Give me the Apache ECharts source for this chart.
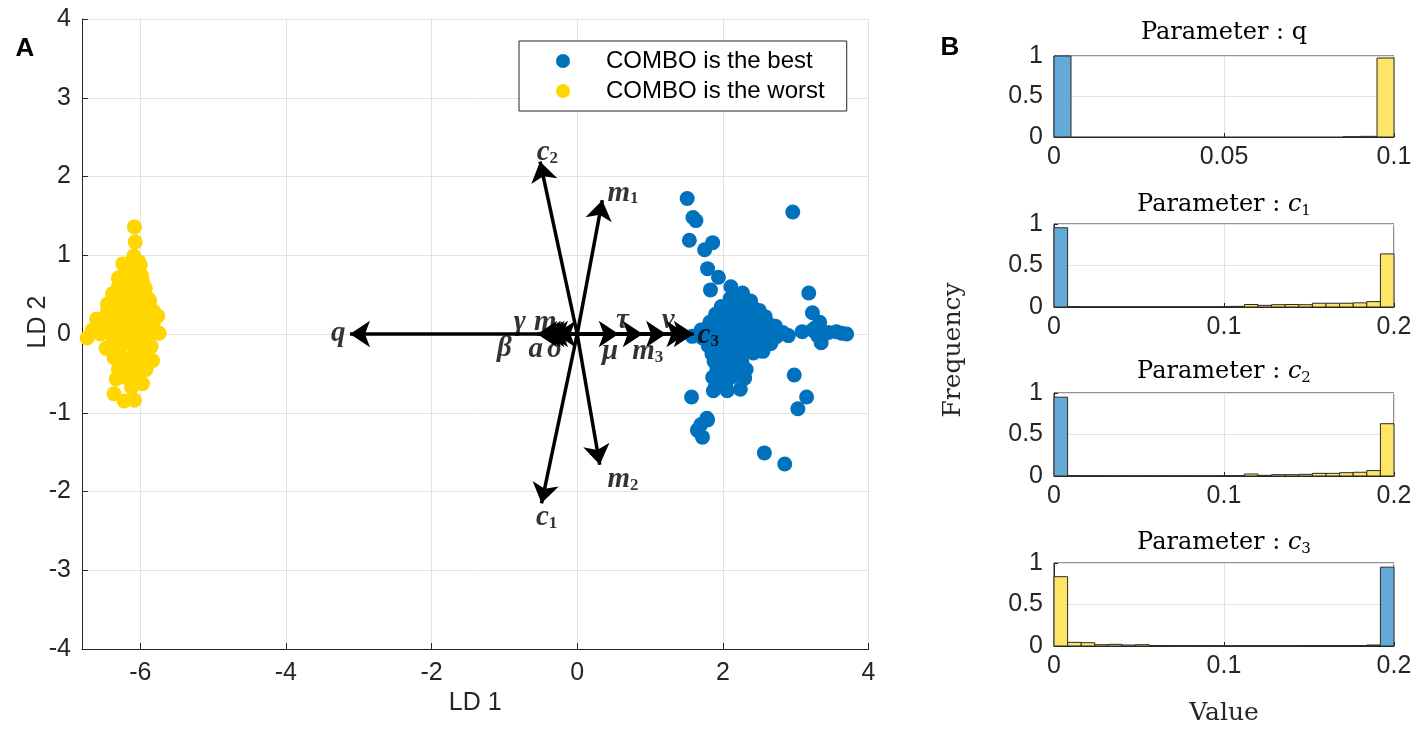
<!DOCTYPE html>
<html><head><meta charset="utf-8">
<script src="https://cdn.jsdelivr.net/npm/echarts@6/dist/echarts.min.js"></script>
<style>html,body{margin:0;padding:0;background:#fff}#c{width:1428px;height:730px}</style>
</head><body><div id="c"></div>
<script>
// ---------- Panel A data ----------
const bestPoints = [
  [1.51,1.72],[1.59,1.48],[1.63,1.44],[1.54,1.19],[1.75,1.07],[1.86,1.16],[2.96,1.55],
  [1.79,0.83],[1.94,0.72],[1.83,0.56],[2.11,0.60],[2.27,0.52],[3.18,0.52],[3.23,0.27],
  [3.33,0.15],[3.09,0.03],[3.35,-0.11],[3.56,0.03],[3.70,0.00],[3.23,0.05],[3.30,-0.02],
  [3.45,0.02],[3.63,0.01],[3.27,0.08],[2.98,-0.52],[3.15,-0.80],[3.03,-0.95],[2.57,-1.51],
  [2.85,-1.65],[1.57,-0.80],[1.78,-1.07],[1.65,-1.22],[1.72,-1.31],[1.79,-1.09],[1.70,-1.15],
  [2.10,0.45],[2.25,0.44],[2.38,0.42],
  [1.98,0.35],[2.12,0.36],[2.28,0.34],[2.42,0.33],[2.50,0.30],
  [1.90,0.25],[2.02,0.26],[2.18,0.24],[2.32,0.25],[2.46,0.23],[2.58,0.22],
  [1.82,0.15],[1.95,0.16],[2.08,0.14],[2.22,0.15],[2.36,0.13],[2.50,0.15],[2.64,0.12],[2.72,0.10],
  [1.70,0.05],[1.85,0.06],[1.98,0.04],[2.12,0.05],[2.26,0.06],[2.40,0.04],[2.55,0.05],[2.70,0.03],[2.82,0.02],
  [1.58,-0.03],[1.72,-0.05],[1.88,-0.06],[2.02,-0.04],[2.16,-0.05],[2.30,-0.06],[2.44,-0.04],[2.58,-0.05],[2.74,-0.03],[2.90,-0.02],
  [1.80,-0.15],[1.95,-0.16],[2.10,-0.14],[2.24,-0.15],[2.38,-0.16],[2.52,-0.14],[2.66,-0.12],
  [1.85,-0.25],[1.98,-0.26],[2.12,-0.24],[2.28,-0.25],[2.42,-0.24],[2.55,-0.22],
  [1.88,-0.35],[2.00,-0.36],[2.14,-0.34],[2.26,-0.35],
  [1.92,-0.45],[2.06,-0.46],[2.20,-0.44],[2.32,-0.45],
  [1.86,-0.55],[2.00,-0.56],[2.14,-0.54],[2.30,-0.56],
  [1.90,-0.65],[2.04,-0.64],
  [1.87,-0.72],[2.06,-0.72],[2.24,-0.70]
];
const worstPoints = [
  [-6.08,1.36],[-6.07,1.17],[-6.09,0.99],[-6.24,0.89],[-6.30,0.71],[-5.97,0.67],[-6.38,0.51],
  [-5.87,0.42],[-6.45,0.38],[-5.76,0.23],[-6.60,0.19],[-6.66,0.05],[-5.74,0.01],[-6.73,-0.05],
  [-5.83,-0.34],[-6.47,-0.18],[-6.33,-0.57],[-5.97,-0.63],[-6.36,-0.76],[-6.22,-0.85],
  [-6.08,-0.84],[-6.12,-0.68],[-6.00,0.88],
  [-6.15,0.90],[-6.02,0.92],
  [-6.22,0.75],[-6.08,0.76],[-5.98,0.74],
  [-6.30,0.60],[-6.18,0.61],[-6.05,0.59],[-5.93,0.58],
  [-6.38,0.45],[-6.25,0.46],[-6.12,0.44],[-6.00,0.45],[-5.90,0.46],
  [-6.45,0.30],[-6.32,0.31],[-6.18,0.29],[-6.05,0.30],[-5.92,0.31],[-5.82,0.29],
  [-6.50,0.15],[-6.36,0.16],[-6.22,0.14],[-6.08,0.15],[-5.95,0.16],[-5.82,0.14],
  [-6.55,0.00],[-6.42,0.01],[-6.28,-0.01],[-6.14,0.00],[-6.00,0.01],[-5.86,-0.01],
  [-6.40,-0.15],[-6.27,-0.16],[-6.12,-0.14],[-5.98,-0.15],[-5.85,-0.16],
  [-6.36,-0.30],[-6.22,-0.31],[-6.08,-0.29],[-5.95,-0.30],
  [-6.30,-0.45],[-6.15,-0.46],[-6.02,-0.44],[-5.92,-0.45],
  [-6.20,-0.55],[-6.05,-0.56]
];
const seriesNames = ['COMBO is the best', 'COMBO is the worst'];
const arrowNames = ['q','c1','c2','c3','m0','m1','m2','m3','β','a','σ','γ','μ','τ','ν'];
const arrowX = [-3.12,-0.49,-0.51,1.60,-0.45,0.345,0.31,1.22,-0.55,-0.50,-0.30,-0.40,0.57,0.90,1.50];
const arrowY = [0,-2.15,2.19,0,0,1.70,-1.66,0,0,0,0,0,0,0,0];
const labelX = [-3.28,-0.42,-0.41,1.80,-0.38,0.63,0.63,0.97,-1.00,-0.57,-0.31,-0.79,0.45,0.62,1.25];
const labelY = [0,-2.33,2.30,-0.02,0.14,1.79,-1.85,-0.22,-0.18,-0.20,-0.20,0.14,-0.22,0.17,0.17];
const xTickLabelsA = [-6,-4,-2,0,2,4];
const yTickLabelsA = [-4,-3,-2,-1,0,1,2,3,4];

// ---------- Panel B data ----------
const histParams = ['q','c1','c2','c3'];
const histBinWidth = [0.005, 0.008, 0.008, 0.008];
const histMax = [0.1, 0.2, 0.2, 0.2];
const histTick = [0.05, 0.1, 0.1, 0.1];
const qBest  = [1.0,0,0,0,0,0,0,0,0,0,0,0,0,0,0,0,0,0,0,0];
const qWorst = [0,0,0,0,0,0,0,0,0,0,0,0,0,0,0,0,0,0.003,0.008,0.975];
const c1Best  = [0.955,0.004,0.002,0.001,0.001,0.001,0.001,0.001,0.001,0.001,0.001,0.001,0,0,0,0,0,0,0,0,0,0,0,0,0];
const c1Worst = [0,0,0,0,0,0,0,0,0,0,0,0,0.004,0.008,0.030,0.020,0.028,0.030,0.028,0.045,0.045,0.045,0.050,0.065,0.640];
const c2Best  = [0.950,0.004,0.002,0.002,0.001,0.001,0.001,0.001,0.001,0.001,0.001,0.001,0,0,0,0,0,0,0,0,0,0,0,0,0];
const c2Worst = [0,0,0,0,0,0,0,0,0,0,0,0,0.004,0.004,0.024,0.008,0.016,0.016,0.020,0.032,0.032,0.040,0.045,0.065,0.630];
const c3Best  = [0,0,0,0,0,0,0,0,0,0,0,0,0,0,0,0,0,0,0.002,0.003,0.002,0.003,0.005,0.012,0.950];
const c3Worst = [0.835,0.044,0.040,0.016,0.020,0.012,0.016,0.006,0.004,0.004,0.003,0.003,0.002,0.002,0.002,0.002,0.002,0.002,0.001,0.001,0.001,0.001,0.001,0.001,0];
const histBest  = [qBest, c1Best, c2Best, c3Best];
const histWorst = [qWorst, c1Worst, c2Worst, c3Worst];
const histYTicks = [0, 0.5, 1];

// ---------- styling ----------
const BLUE = '#0072BD', YELLOW = '#FFD600';
const HBLUE = '#64AAD7', HYELLOW = '#FFE566';
const AX = '#262626', GRID = '#e2e2e2';
const SANS = '"Liberation Sans", Arial, sans-serif';
const SERIF = '"DejaVu Serif", serif';
const MSERIF = '"Liberation Serif", serif';

const histTop = [56, 224, 393, 563];
const histH = [81, 83, 83, 83];

function arrowLabel(n) {
  const m = n.match(/^([a-z])(\d)$/);
  if (m) return '{m|' + m[1] + '}{s|' + m[2] + '}';
  return '{m|' + n + '}';
}
function titleText(p) {
  const m = p.match(/^([a-z])(\d)$/);
  if (m) return '{t|Parameter : }{i|' + m[1] + '}{s|' + m[2] + '}';
  return '{t|Parameter : ' + p + '}';
}

const grids = [{left: 82, top: 19, width: 786.5, height: 630}];
const xAxes = [{
  gridIndex: 0, type: 'value', min: -6.8, max: 4, splitNumber: 5,
  name: 'LD 1', nameLocation: 'middle', nameGap: 33,
  nameTextStyle: {fontFamily: SANS, fontSize: 25, color: AX},
  axisLine: {show: true, onZero: false, lineStyle: {color: AX, width: 1}},
  axisTick: {show: true, inside: true, length: 6, lineStyle: {color: AX}},
  axisLabel: {showMinLabel: false, fontFamily: SANS, fontSize: 25, color: AX, margin: 12,
    formatter: v => xTickLabelsA.indexOf(v) >= 0 ? String(v) : ''},
  splitLine: {show: true, lineStyle: {color: GRID, width: 1}}
}];
const yAxes = [{
  gridIndex: 0, type: 'value', min: -4, max: 4, interval: 1,
  axisLine: {show: true, onZero: false, lineStyle: {color: AX, width: 1}},
  axisTick: {show: true, inside: true, length: 6, lineStyle: {color: AX}},
  axisLabel: {fontFamily: SANS, fontSize: 25, color: AX, margin: 11,
    formatter: v => yTickLabelsA.indexOf(v) >= 0 ? String(v) : ''},
  splitLine: {show: true, lineStyle: {color: GRID, width: 1}}
}];
const series = [
  {name: seriesNames[0], type: 'scatter', xAxisIndex: 0, yAxisIndex: 0, data: bestPoints,
   symbol: 'circle', symbolSize: 15, itemStyle: {color: BLUE, opacity: 1}, z: 2},
  {name: seriesNames[1], type: 'scatter', xAxisIndex: 0, yAxisIndex: 0, data: worstPoints,
   symbol: 'circle', symbolSize: 15, itemStyle: {color: YELLOW, opacity: 1}, z: 2},
  {type: 'lines', coordinateSystem: 'cartesian2d', xAxisIndex: 0, yAxisIndex: 0, z: 5,
   symbol: ['none', 'arrow'], symbolSize: [11, 20], silent: true,
   lineStyle: {color: '#000', width: 3.5, opacity: 1, curveness: 0},
   data: arrowNames.map((n, i) => ({coords: [[0, 0], [arrowX[i], arrowY[i]]]}))},
  {type: 'scatter', xAxisIndex: 0, yAxisIndex: 0, z: 6, symbolSize: 1, silent: true,
   itemStyle: {color: 'rgba(0,0,0,0)'},
   data: arrowNames.map((n, i) => [labelX[i], labelY[i], n]),
   label: {show: true, position: 'inside', color: '#000', fontSize: 29, fontFamily: MSERIF,
     fontWeight: 'bold', fontStyle: 'italic',
     formatter: p => arrowLabel(p.value[2]),
     rich: {
       m: {fontFamily: MSERIF, fontStyle: 'italic', fontWeight: 'bold', fontSize: 29, color: '#000', lineHeight: 29, verticalAlign: 'top'},
       s: {fontFamily: MSERIF, fontStyle: 'normal', fontWeight: 'bold', fontSize: 17, color: '#000', lineHeight: 17, verticalAlign: 'bottom'}
     }}}
];
const graphics = [
  {type: 'text', x: 25, y: 49, style: {text: 'A', font: 'bold 26px ' + SANS, fill: '#000', align: 'center', verticalAlign: 'middle'}},
  {type: 'text', x: 950, y: 48, style: {text: 'B', font: 'bold 26px ' + SANS, fill: '#000', align: 'center', verticalAlign: 'middle'}},
  {type: 'text', x: 38, y: 322, rotation: Math.PI / 2, style: {text: 'LD 2', font: '25px ' + SANS, fill: AX, align: 'center', verticalAlign: 'middle'}},
  {type: 'text', x: 953, y: 350, rotation: Math.PI / 2, style: {text: 'Frequency', font: '25px ' + SERIF, fill: AX, align: 'center', verticalAlign: 'middle'}}
];
const titleCY = [34, 206, 373, 544];

histParams.forEach((p, k) => {
  const gi = k + 1;
  grids.push({left: 1054, width: 340, top: histTop[k], height: histH[k], show: true,
    borderColor: AX, borderWidth: 1, backgroundColor: '#fff'});
  xAxes.push({gridIndex: gi, type: 'value', min: 0, max: histMax[k], interval: histTick[k],
    name: k === 3 ? 'Value' : '', nameLocation: 'middle', nameGap: 55,
    nameTextStyle: {fontFamily: SERIF, fontSize: 25, color: AX},
    axisLine: {show: true, onZero: false, lineStyle: {color: AX}},
    axisTick: {show: true, inside: true, length: 4, lineStyle: {color: AX}},
    axisLabel: {fontFamily: SANS, fontSize: 25, color: AX, margin: 8},
    splitLine: {show: true, lineStyle: {color: GRID}}});
  yAxes.push({gridIndex: gi, type: 'value', min: 0, max: 1, interval: 0.5,
    axisLine: {show: true, onZero: false, lineStyle: {color: AX}},
    axisTick: {show: true, inside: true, length: 4, lineStyle: {color: AX}},
    axisLabel: {fontFamily: SANS, fontSize: 25, color: AX, margin: 11,
      formatter: v => histYTicks.indexOf(v) >= 0 ? String(v) : ''},
    splitLine: {show: true, lineStyle: {color: GRID}}});
  [[histBest[k], HBLUE], [histWorst[k], HYELLOW]].forEach(([vals, col]) => {
    const w = histBinWidth[k];
    series.push({type: 'custom', xAxisIndex: gi, yAxisIndex: gi, silent: true, z: 3,
      data: vals.map((v, i) => [i, v]),
      renderItem: (params, api) => {
        const i = api.value(0), h = api.value(1);
        if (!(h > 0)) return null;
        const a = api.coord([i * w, h]);
        const b = api.coord([(i + 1) * w, 0]);
        return {type: 'rect', shape: {x: a[0], y: a[1], width: b[0] - a[0], height: b[1] - a[1]},
          style: {fill: col, stroke: '#2a2a2a', lineWidth: 1}};
      }});
  });
  graphics.push({type: 'text', x: 1224, y: titleCY[k], style: {
    text: titleText(p), align: 'center', verticalAlign: 'middle',
    rich: {
      t: {fontFamily: SERIF, fontSize: 24, fill: '#000', lineHeight: 26, verticalAlign: 'top'},
      i: {fontFamily: SERIF, fontStyle: 'italic', fontSize: 24, fill: '#000', lineHeight: 26, verticalAlign: 'top'},
      s: {fontFamily: SERIF, fontSize: 15, fill: '#000', lineHeight: 15, verticalAlign: 'bottom'}
    }}});
});

const chart = echarts.init(document.getElementById('c'), null, {renderer: 'canvas'});
chart.setOption({
  animation: false,
  backgroundColor: '#fff',
  grid: grids, xAxis: xAxes, yAxis: yAxes, series: series, graphic: graphics,
  legend: {data: seriesNames, orient: 'vertical', left: 519, top: 41, icon: 'circle',
    itemWidth: 14, itemHeight: 14, itemGap: 6, selectedMode: false,
    textStyle: {fontFamily: SANS, fontSize: 24, color: '#000', lineHeight: 24, padding: [0, 0, 0, 31]},
    backgroundColor: '#fff', borderColor: AX, borderWidth: 1, borderRadius: 0,
    padding: [8, 22, 8, 37]}
});
</script></body></html>
